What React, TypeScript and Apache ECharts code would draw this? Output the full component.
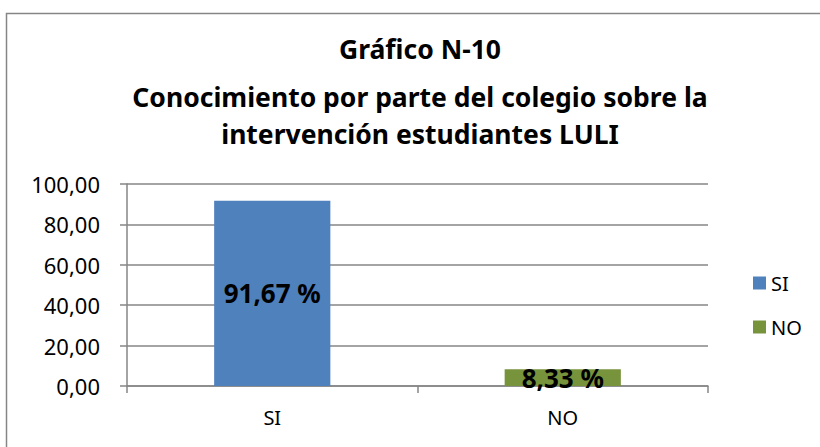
import React, { useEffect, useRef } from "react";
import * as echarts from "echarts";

const categories = ["SI", "NO"];
const seriesNames = ["SI", "NO"];
const siValues: (number | string)[] = [91.67, "-"];
const noValues: (number | string)[] = ["-", 8.33];
const yTicks = [0, 20, 40, 60, 80, 100];
const titleLine = "Gráfico N-10";
const subtitleLines = [
  "Conocimiento por parte del colegio sobre la",
  "intervención estudiantes LULI",
];

const FONT = "'Noto Sans', 'Open Sans', sans-serif";

export default function App() {
  const ref = useRef<HTMLDivElement>(null);
  useEffect(() => {
    if (!ref.current) return;
    const chart = echarts.init(ref.current, undefined, { renderer: "svg" });
    const fmt = (v: number) => v.toFixed(2).replace(".", ",");
    const labelCfg = {
      show: true,
      position: "inside",
      color: "#000",
      fontWeight: "bold",
      fontSize: 26,
      fontFamily: FONT,
      formatter: (p: any) => fmt(p.value) + " %",
    };
    const titleStyle = {
      fontFamily: FONT,
      fontWeight: "bold",
      fontSize: 26.5,
      color: "#000",
    };
    chart.setOption({
      animation: false,
      backgroundColor: "#fff",
      title: {
        text: titleLine,
        subtext: subtitleLines.join("\n"),
        left: 420,
        textAlign: "center",
        top: 30,
        itemGap: 10,
        padding: 0,
        textStyle: { ...titleStyle, lineHeight: 38 },
        subtextStyle: { ...titleStyle, lineHeight: 37 },
      },
      graphic: [
        {
          type: "rect",
          shape: { x: 6.5, y: 13.5, width: 830, height: 450 },
          style: { fill: "none", stroke: "#868686", lineWidth: 1.5 },
          silent: true,
        },
      ],
      legend: {
        orient: "vertical",
        left: 748,
        top: 268,
        itemWidth: 13,
        itemHeight: 13,
        itemGap: 24,
        icon: "rect",
        data: seriesNames,
        textStyle: { fontFamily: FONT, fontSize: 20, color: "#000", padding: [0, 0, 0, 0] },
      },
      grid: { left: 127, right: 112, top: 184, bottom: 61, containLabel: false },
      xAxis: {
        type: "category",
        data: categories,
        axisLine: { lineStyle: { color: "#868686", width: 1.5 } },
        axisTick: { show: true, length: 7, lineStyle: { color: "#868686", width: 1.5 } },
        axisLabel: { fontFamily: FONT, fontSize: 20, color: "#000", margin: 21 },
      },
      yAxis: {
        type: "value",
        min: yTicks[0],
        max: yTicks[yTicks.length - 1],
        interval: 20,
        axisLine: { show: true, lineStyle: { color: "#868686", width: 1.5 } },
        axisTick: { show: true, length: 7, lineStyle: { color: "#868686", width: 1.5 } },
        splitLine: { lineStyle: { color: "#868686", width: 1.5 } },
        axisLabel: {
          fontFamily: FONT,
          fontSize: 22,
          color: "#000",
          margin: 27,
          formatter: (v: number) => fmt(v),
        },
      },
      series: [
        {
          name: seriesNames[0],
          type: "bar",
          stack: "s",
          data: siValues,
          barWidth: "40%",
          itemStyle: { color: "#4F81BD" },
          label: labelCfg,
        },
        {
          name: seriesNames[1],
          type: "bar",
          stack: "s",
          data: noValues,
          barWidth: "40%",
          itemStyle: { color: "#77933C" },
          label: labelCfg,
        },
      ],
    });
    return () => chart.dispose();
  }, []);
  return (
    <div
      ref={ref}
      style={{ position: "fixed", left: 0, top: 0, width: 820, height: 447 }}
    />
  );
}
